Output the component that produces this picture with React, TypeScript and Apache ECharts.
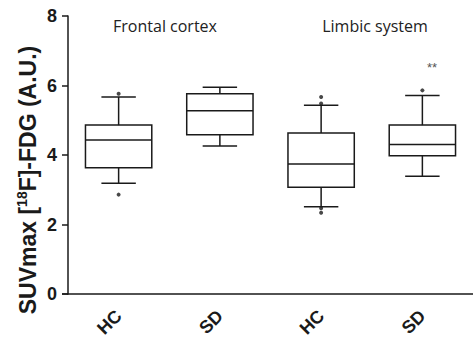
import React, { useEffect, useRef } from "react";
import * as echarts from "echarts";

const categories = ["HC", "SD", "HC", "SD"];
const lowerWhisker = [3.19, 4.26, 2.51, 3.39];
const q1 = [3.63, 4.58, 3.07, 3.98];
const median = [4.43, 5.27, 3.74, 4.3];
const q3 = [4.86, 5.76, 4.63, 4.86];
const upperWhisker = [5.67, 5.95, 5.43, 5.71];
const outliers: [number, number][] = [
  [0, 5.76],
  [0, 2.86],
  [2, 5.67],
  [2, 5.48],
  [2, 2.47],
  [2, 2.34],
  [3, 5.86],
];
const yTicks = [0, 2, 4, 6, 8];
const groupTitles = ["Frontal cortex", "Limbic system"];
const significance = "**";

const INK = "#1a1a1a";

export default function App() {
  const ref = useRef<HTMLDivElement>(null);
  useEffect(() => {
    if (!ref.current) return;
    const chart = echarts.init(ref.current, null, { renderer: "svg" });
    const boxData = categories.map((_, i) => [
      i,
      lowerWhisker[i],
      q1[i],
      median[i],
      q3[i],
      upperWhisker[i],
    ]);
    chart.setOption({
      animation: false,
      backgroundColor: "#ffffff",
      grid: { left: 68, top: 16, height: 278, width: 416 },
      xAxis: {
        type: "category",
        data: categories,
        boundaryGap: true,
        axisLine: { lineStyle: { color: INK, width: 1.5 } },
        axisTick: { alignWithLabel: true, length: 7, lineStyle: { color: INK, width: 1.5 } },
        axisLabel: {
          rotate: 45,
          margin: 19,
          color: INK,
          fontFamily: "Liberation Sans",
          fontWeight: "bold",
          fontSize: 18,
        },
      },
      yAxis: {
        type: "value",
        min: yTicks[0],
        max: yTicks[yTicks.length - 1],
        interval: 2,
        splitLine: { show: false },
        axisLine: { show: true, lineStyle: { color: INK, width: 1.5 } },
        axisTick: { show: true, length: 6, lineStyle: { color: INK, width: 1.5 } },
        axisLabel: {
          margin: 11,
          color: INK,
          fontFamily: "Liberation Sans",
          fontWeight: "bold",
          fontSize: 18,
        },
      },
      graphic: [
        {
          type: "line",
          shape: { x1: 62, y1: 294, x2: 68, y2: 294 },
          style: { stroke: INK, lineWidth: 1.5 },
        },
        {
          type: "text",
          x: 165,
          y: 26,
          style: {
            text: groupTitles[0],
            font: "16px 'Open Sans'",
            fill: "#222",
            align: "center",
            verticalAlign: "middle",
          },
        },
        {
          type: "text",
          x: 375,
          y: 26,
          style: {
            text: groupTitles[1],
            font: "16px 'Open Sans'",
            fill: "#222",
            align: "center",
            verticalAlign: "middle",
          },
        },
        {
          type: "text",
          x: 432,
          y: 67,
          style: {
            text: significance,
            font: "13px 'Liberation Sans'",
            fill: "#555",
            align: "center",
            verticalAlign: "middle",
          },
        },
        {
          type: "text",
          x: 28,
          y: 180,
          rotation: Math.PI / 2,
          style: {
            text: "{a|SUVmax [}{b|18}{a|F]-FDG (A.U.)}",
            align: "center",
            verticalAlign: "middle",
            fill: INK,
            rich: {
              a: {
                fontFamily: "Liberation Sans",
                fontWeight: "bold",
                fontSize: 23,
                lineHeight: 26,
                fill: INK,
              },
              b: {
                fontFamily: "Liberation Sans",
                fontWeight: "bold",
                fontSize: 14,
                lineHeight: 26,
                verticalAlign: "top",
                fill: INK,
              },
            },
          },
        },
      ],
      series: [
        {
          type: "custom",
          data: boxData,
          encode: { x: 0, y: [1, 2, 3, 4, 5] },
          renderItem: (params: any, api: any) => {
            const idx = api.value(0);
            const band = api.size([1, 0])[0];
            const bw = band * 0.655;
            const cw = band * 0.34;
            const pLow = api.coord([idx, api.value(1)]);
            const pQ1 = api.coord([idx, api.value(2)]);
            const pMed = api.coord([idx, api.value(3)]);
            const pQ3 = api.coord([idx, api.value(4)]);
            const pHigh = api.coord([idx, api.value(5)]);
            const cx = pMed[0];
            const st = { stroke: INK, lineWidth: 1.5, fill: "none" };
            return {
              type: "group",
              children: [
                {
                  type: "rect",
                  shape: { x: cx - bw / 2, y: pQ3[1], width: bw, height: pQ1[1] - pQ3[1] },
                  style: { stroke: INK, lineWidth: 1.5, fill: "#fff" },
                },
                { type: "line", shape: { x1: cx - bw / 2, y1: pMed[1], x2: cx + bw / 2, y2: pMed[1] }, style: st },
                { type: "line", shape: { x1: cx, y1: pQ3[1], x2: cx, y2: pHigh[1] }, style: st },
                { type: "line", shape: { x1: cx, y1: pQ1[1], x2: cx, y2: pLow[1] }, style: st },
                { type: "line", shape: { x1: cx - cw / 2, y1: pHigh[1], x2: cx + cw / 2, y2: pHigh[1] }, style: st },
                { type: "line", shape: { x1: cx - cw / 2, y1: pLow[1], x2: cx + cw / 2, y2: pLow[1] }, style: st },
              ],
            };
          },
          z: 2,
        },
        {
          type: "scatter",
          data: outliers,
          symbol: "circle",
          symbolSize: 4,
          itemStyle: { color: INK },
          z: 3,
        },
      ],
    });
    return () => chart.dispose();
  }, []);
  return (
    <div
      ref={ref}
      style={{ position: "fixed", left: 0, top: 0, width: 473, height: 349, background: "#fff" }}
    />
  );
}
